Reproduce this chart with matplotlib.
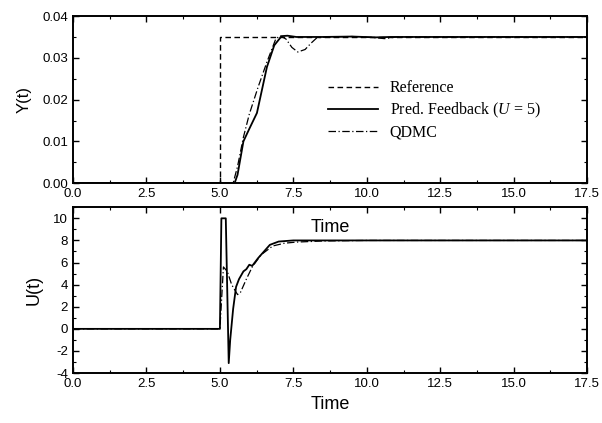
import matplotlib
matplotlib.use("Agg")
import matplotlib.pyplot as plt
from matplotlib.ticker import MultipleLocator, FormatStrFormatter

plt.rcParams["axes.unicode_minus"] = False
plt.rcParams["mathtext.fontset"] = "custom"
plt.rcParams["mathtext.rm"] = "Liberation Serif"
plt.rcParams["mathtext.it"] = "Liberation Serif:italic"

# ---- data ----
t_ref = [0.0, 5.0, 5.0, 17.5]
y_ref = [0.0, 0.0, 0.035, 0.035]

t_y_pf = [0.0, 5.5, 5.6, 5.7, 5.8, 6.0, 6.26, 6.6, 6.85, 7.1, 7.3, 7.6, 8.5, 9.5, 10.3, 10.8, 12.0, 17.5]
y_pf = [0.0, 0.0, 0.002, 0.006, 0.0100, 0.0130, 0.0168, 0.0278, 0.0330, 0.0352, 0.0353, 0.0350, 0.0350, 0.0351, 0.0349, 0.0350, 0.0350, 0.0350]

t_y_q = [0.0, 5.45, 5.6, 5.8, 6.0, 6.3, 6.6, 6.9, 7.05, 7.25, 7.45, 7.65, 7.9, 8.1, 8.3, 8.6, 9.5, 10.2, 10.6, 11.0, 17.5]
y_q = [0.0, 0.0, 0.004, 0.011, 0.0165, 0.023, 0.029, 0.0345, 0.0353, 0.0345, 0.0325, 0.0314, 0.0320, 0.0335, 0.0348, 0.0350, 0.0351, 0.0349, 0.0346, 0.0350, 0.0350]

t_u_pf = [0.0, 5.0, 5.05, 5.2, 5.3, 5.35, 5.45, 5.55, 5.65, 5.8, 5.9, 6.0, 6.1, 6.3, 6.5, 6.7, 7.0, 7.5, 8.5, 10.0, 17.5]
u_pf = [0.0, 0.0, 10.0, 10.0, -3.1, -1.0, 1.8, 3.8, 4.5, 5.2, 5.4, 5.8, 5.7, 6.4, 7.0, 7.6, 7.9, 8.0, 8.0, 8.0, 8.0]

t_u_q = [0.0, 5.0, 5.12, 5.25, 5.4, 5.6, 5.7, 5.9, 6.1, 6.4, 6.8, 7.2, 7.6, 8.5, 10.0, 17.5]
u_q = [0.0, 0.0, 5.6, 5.2, 4.0, 3.1, 3.3, 4.5, 5.6, 6.7, 7.5, 7.75, 7.85, 7.95, 8.0, 8.0]

x_ticks = [0.0, 2.5, 5.0, 7.5, 10.0, 12.5, 15.0, 17.5]

sans = "Liberation Sans"
serif = "Liberation Serif"

fig = plt.figure(figsize=(6.02, 4.23), dpi=100)
ax1 = fig.add_axes([0.1213, 0.567, 0.854, 0.395])
ax2 = fig.add_axes([0.1213, 0.118, 0.854, 0.392])

ax1.plot(t_ref, y_ref, color="black", lw=1.0, ls=(0, (4, 2.5)), label="Reference")
ax1.plot(t_y_pf, y_pf, color="black", lw=1.3, ls="-", label="Pred. Feedback ($\\mathit{U}$ = 5)")
ax1.plot(t_y_q, y_q, color="black", lw=0.9, ls=(0, (6, 2, 1, 2)), label="QDMC")

ax2.plot(t_u_pf, u_pf, color="black", lw=1.3, ls="-")
ax2.plot(t_u_q, u_q, color="black", lw=0.9, ls=(0, (6, 2, 1, 2)))

ax1.set_xlim(0, 17.5)
ax1.set_ylim(0, 0.04)
ax2.set_xlim(0, 17.5)
ax2.set_ylim(-4, 11)

ax1.yaxis.set_major_locator(MultipleLocator(0.01))
ax1.yaxis.set_minor_locator(MultipleLocator(0.005))
ax1.yaxis.set_major_formatter(FormatStrFormatter("%.2f"))
ax2.set_yticks([-4, -2, 0, 2, 4, 6, 8, 10])
ax2.yaxis.set_minor_locator(MultipleLocator(1))

for ax in (ax1, ax2):
    ax.set_xticks(x_ticks)
    ax.xaxis.set_major_formatter(FormatStrFormatter("%.1f"))
    ax.xaxis.set_minor_locator(MultipleLocator(1.25))
    ax.tick_params(which="both", direction="in", top=True, right=True, labelsize=9.5)
    ax.tick_params(which="major", length=4, width=1.0)
    ax.tick_params(which="minor", length=2.5, width=0.8)
    for s in ax.spines.values():
        s.set_linewidth(1.4)
    for lab in ax.get_xticklabels() + ax.get_yticklabels():
        lab.set_fontfamily(sans)

ax1.set_ylabel("Y(t)", fontfamily=sans, fontsize=12, labelpad=8)
ax2.set_ylabel("U(t)", fontfamily=sans, fontsize=13, labelpad=8)
ax2.set_xlabel("Time", fontfamily=sans, fontsize=13, labelpad=4)
ax2.text(8.75, 9.2, "Time", fontfamily=sans, fontsize=13, ha="center", va="center")

leg = ax1.legend(loc="upper left", bbox_to_anchor=(0.484, 0.655), frameon=False,
                 prop={"family": serif, "size": 11.5}, handlelength=3.1,
                 handletextpad=0.75, labelspacing=0.3, borderaxespad=0)

fig.savefig("out.png", dpi=100)
